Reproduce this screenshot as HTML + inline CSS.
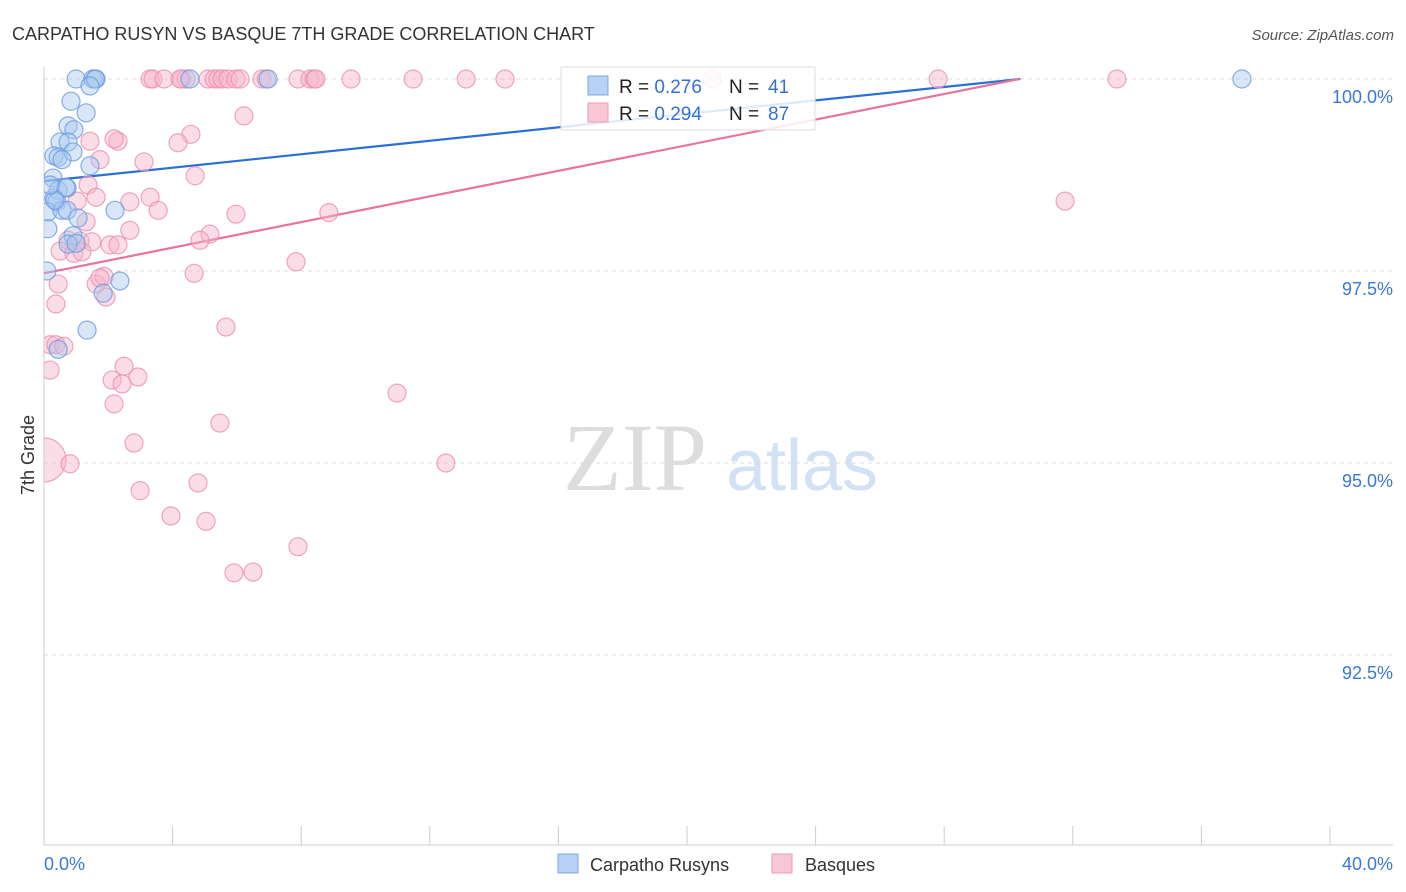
<!DOCTYPE html>
<html><head><meta charset="utf-8"><style>
body{margin:0;background:#fff;font-family:"Liberation Sans",sans-serif;}
svg{display:block}
</style></head><body>
<svg id="chart" width="1406" height="892" xmlns="http://www.w3.org/2000/svg">
<defs><clipPath id="plotclip"><rect x="44" y="55" width="1360" height="790"/></clipPath></defs>
<text x="12" y="40" font-size="18" fill="#333">CARPATHO RUSYN VS BASQUE 7TH GRADE CORRELATION CHART</text>
<text x="1394" y="40" font-size="15" fill="#555" font-style="italic" text-anchor="end">Source: ZipAtlas.com</text>
<text x="34" y="455" font-size="18" fill="#333" text-anchor="middle" transform="rotate(-90 34 455)">7th Grade</text>
<g><text x="635" y="490" font-size="96" fill="#ddd" font-family="Liberation Serif,serif" text-anchor="middle">ZIP</text><text x="802" y="490" font-size="72" fill="#d3e1f5" text-anchor="middle">atlas</text></g>
<g id="grid"></g><g id="axes"></g><g id="lines"></g><g id="pts" clip-path="url(#plotclip)"></g>
<g>
<rect x="561" y="67" width="254" height="63" fill="#fff" fill-opacity="0.85" stroke="#ddd"/>
<rect x="588" y="76" width="20" height="19" fill="#b8d2f5" stroke="#7ea7e0"/>
<rect x="588" y="103" width="20" height="19" fill="#f9c6d6" stroke="#ee9ab6"/>
<text x="619" y="93" font-size="19" fill="#222">R = <tspan fill="#3571d4">0.276</tspan><tspan x="729">N = </tspan><tspan x="768" fill="#3571d4">41</tspan></text>
<text x="619" y="120" font-size="19" fill="#222">R = <tspan fill="#3571d4">0.294</tspan><tspan x="729">N = </tspan><tspan x="768" fill="#3571d4">87</tspan></text>
</g>
<g>
<rect x="558" y="854" width="20" height="19" fill="#b8d2f5" stroke="#7ea7e0"/>
<text x="590" y="871" font-size="18" fill="#333">Carpatho Rusyns</text>
<rect x="772" y="854" width="20" height="19" fill="#f9c6d6" stroke="#ee9ab6"/>
<text x="805" y="871" font-size="18" fill="#333">Basques</text>
</g>
</svg>
<script>
const yTicks=[100,97.5,95,92.5];
const yTickLabels=["100.0%","97.5%","95.0%","92.5%"];
const xEndLabels=["0.0%","40.0%"];
const blueX=[1.0,1.52,1.62,1.59,4.54,6.97,37.26,1.43,0.84,1.31,0.75,0.93,0.5,0.75,0.31,0.44,0.9,0.56,1.43,0.28,0.44,0.72,0.31,0.4,0.12,0.56,0.72,2.21,1.06,0.12,0.9,0.75,1.0,2.36,0.09,1.84,1.34,0.44,0.68,0.34,0.19];
const blueY=[100,100,100,100,100,100,100,99.91,99.71,99.56,99.39,99.34,99.18,99.18,99.0,98.98,99.05,98.95,98.87,98.71,98.55,98.58,98.45,98.4,98.27,98.29,98.29,98.29,98.19,98.05,97.96,97.85,97.86,97.37,97.5,97.21,96.73,96.48,98.59,98.42,98.62];
const pinkX=[3.30,3.39,3.73,4.29,4.42,4.23,5.10,5.29,5.41,5.54,5.72,5.97,6.10,6.78,6.91,7.90,8.27,8.40,8.46,9.55,11.48,13.13,14.34,20.78,27.81,33.37,
2.30,1.43,2.18,3.11,4.57,4.17,1.74,6.22,4.70,1.37,1.03,1.62,3.30,2.67,3.55,5.97,8.86,31.76,1.31,2.67,5.16,4.85,0.75,1.12,1.49,2.05,2.30,0.50,0.93,1.18,4.67,7.84,0.44,1.62,1.87,1.74,1.93,0.37,5.66,0.19,0.37,0.62,0.19,2.49,2.12,2.92,2.43,2.18,10.98,5.47,2.80,0,0.81,12.50,2.99,4.79,3.95,5.04,7.90,5.91,6.50];
const pinkY=[100,100,100,100,100,100,100,100,100,100,100,100,100,100,100,100,100,100,100,100,100,100,100,100,100,100,
99.19,99.19,99.22,98.92,99.28,99.17,98.95,99.52,98.74,98.62,98.41,98.46,98.46,98.40,98.29,98.24,98.26,98.41,98.14,98.03,97.98,97.90,97.90,97.89,97.88,97.84,97.84,97.76,97.73,97.75,97.47,97.62,97.33,97.33,97.43,97.41,97.16,97.07,96.77,96.54,96.54,96.52,96.21,96.26,96.08,96.12,96.03,95.77,95.91,95.52,95.26,95.04,94.99,95.0,94.64,94.74,94.31,94.24,93.91,93.57,93.58];
const blueTrend=[98.67,0.0438];
const pinkTrend=[97.47,0.0834];
const NS="http://www.w3.org/2000/svg";
const X=v=>44+v*32.15, Y=v=>79+(100-v)*76.8;
function mk(t,a,p){const e=document.createElementNS(NS,t);for(const k in a)e.setAttribute(k,a[k]);document.getElementById(p).appendChild(e);return e;}
yTicks.forEach((t,i)=>{
 const g=mk('line',{x1:44,x2:1393,y1:Y(t),y2:Y(t),stroke:'#ddd','stroke-dasharray':'4,4'},'grid');
 
 
 const l=mk('text',{x:1393,y:Y(t)+24,'font-size':18,fill:'#3a78d8','text-anchor':'end'},'grid');l.textContent=yTickLabels[i];
 
 
});
mk('line',{x1:44,x2:44,y1:67,y2:845,stroke:'#ccc'},'axes');
mk('line',{x1:44,x2:1393,y1:845,y2:845,stroke:'#ccc'},'axes');
for(let i=0;i<=10;i++){const t=mk('line',{x1:X(i*4),x2:X(i*4),y1:826,y2:845,stroke:'#ccc'},'axes');
 
 }
const xl0=mk('text',{x:44,y:870,'font-size':18,fill:'#3a78d8'},'axes');xl0.textContent=xEndLabels[0];


const xl1=mk('text',{x:1393,y:870,'font-size':18,fill:'#3a78d8','text-anchor':'end'},'axes');xl1.textContent=xEndLabels[1];


function pts(xs,ys,fill,stroke,name){xs.forEach((x,i)=>{const r=(x===0&&name==='basque-point')?22:9;
 const c=mk('circle',{cx:X(x),cy:Y(ys[i]),r:r,fill:fill,'fill-opacity':0.45,stroke:stroke,'stroke-opacity':0.8,'stroke-width':1.2},'pts');
 
 });}
pts(pinkX,pinkY,'#f6b3c9','#ec8fb0','basque-point');
pts(blueX,blueY,'#a9c7f0','#6c9be0','carpatho-point');
function trend(tr,col,name){const xe=Math.min(40,(100-tr[0])/tr[1]);
 const l=mk('line',{x1:X(0),y1:Y(tr[0]),x2:X(xe),y2:Y(tr[0]+tr[1]*xe),stroke:col,'stroke-width':2.2},'lines');
 
 }
trend(blueTrend,'#2a6fd6','carpatho-trendline');
trend(pinkTrend,'#e8739c','basque-trendline');
</script>
</body></html>
